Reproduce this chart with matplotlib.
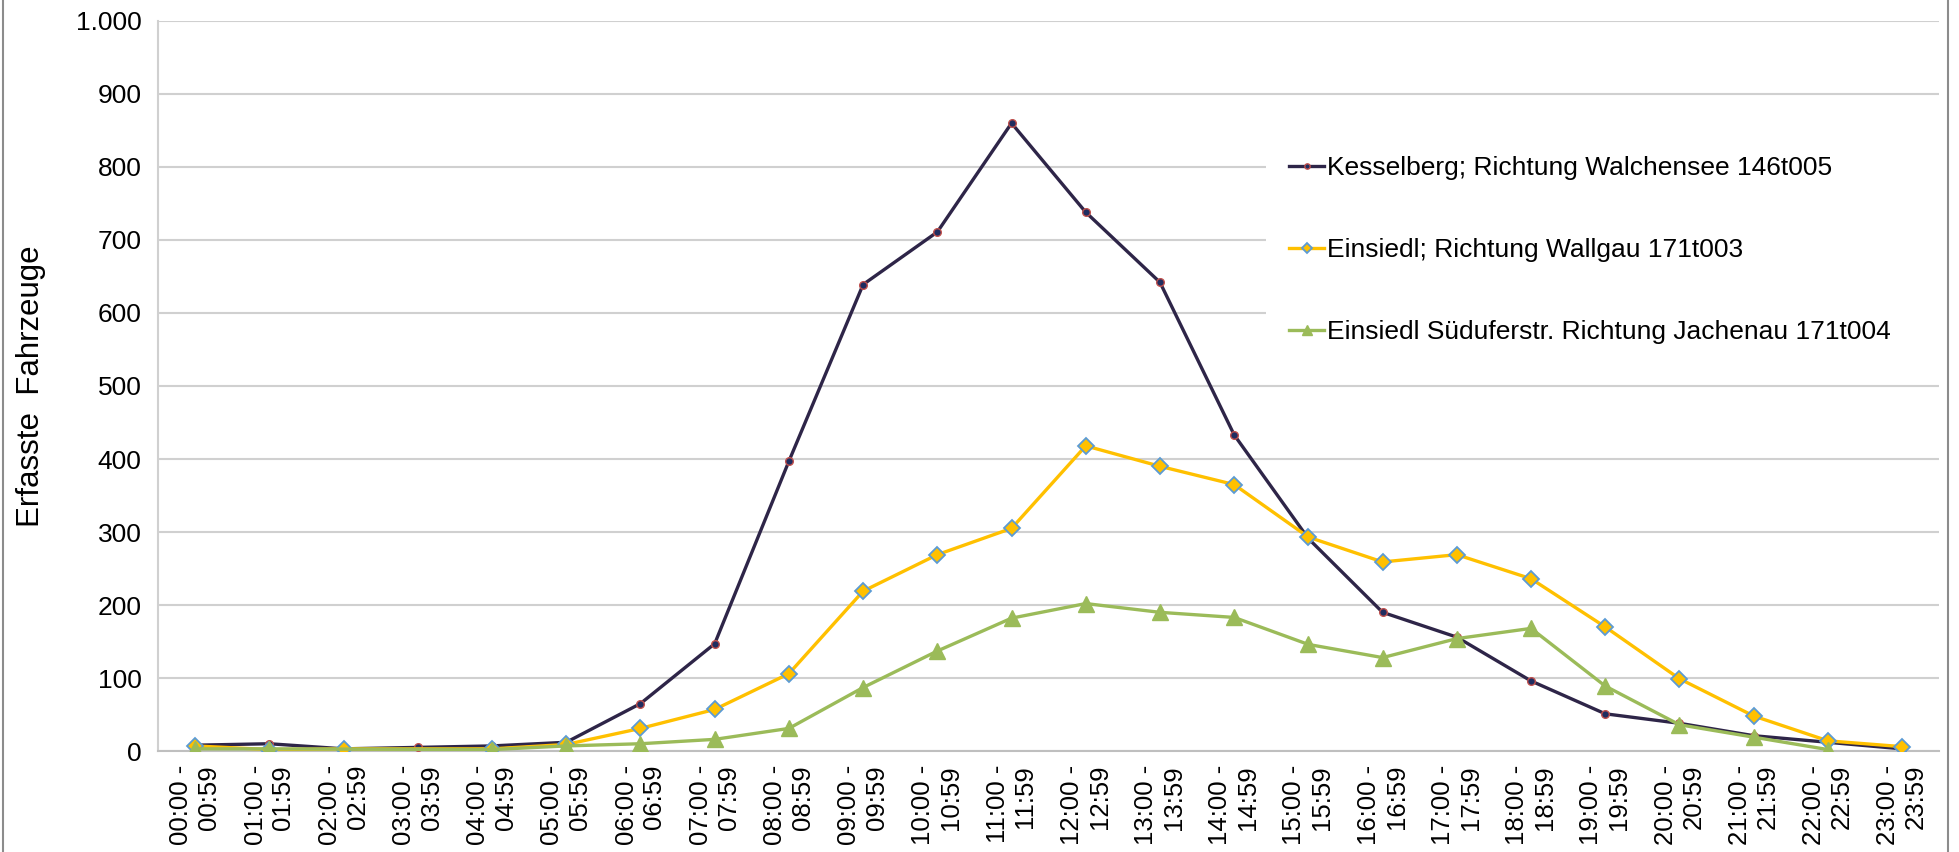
import matplotlib
matplotlib.use('Agg')
import matplotlib.pyplot as plt
import numpy as np
from matplotlib.ticker import FuncFormatter
from matplotlib.patches import Rectangle

plt.rcParams['font.family'] = ['Liberation Sans', 'DejaVu Sans']

hours = [f'{h:02}:00 -\n{h:02}:59' for h in range(24)]

kesselberg = [8, 10, 3, 5, 7, 12, 65, 147, 397, 639, 711, 860, 738, 642,
              433, 291, 190, 156, 96, 51, 38, 21, 12, 3]
wallgau = [7, 2, 3, np.nan, 3, 9, 31, 57, 106, 219, 269, 305, 418, 390,
           365, 293, 259, 269, 236, 170, 99, 48, 14, 6]
jachenau = [3, 3, np.nan, np.nan, 2, 7, 10, 16, 31, 87, 137, 182, 202, 190,
            183, 146, 128, 154, 168, 89, 36, 19, 2, np.nan]

labels = ['Kesselberg; Richtung Walchensee 146t005',
          'Einsiedl; Richtung Wallgau 171t003',
          'Einsiedl Süduferstr. Richtung Jachenau 171t004']

fig = plt.figure(figsize=(19.59, 8.52), dpi=100)
ax = fig.add_axes([0.0807, 0.1185, 0.9092, 0.8569])

x = np.arange(24)


def draw(values, **kw):
    v = np.array(values, dtype=float)
    ok = ~np.isnan(v)
    return ax.plot(x[ok], v[ok], **kw)[0]


l1 = draw(kesselberg, color='#2E2548', lw=2.4, marker='o', ms=5.5,
          mfc='#1F2D60', mec='#C0504D', mew=1.0, zorder=3)
l2 = draw(wallgau, color='#FFC000', lw=2.4, marker='D', ms=8,
          mfc='#FFC000', mec='#5B9BD5', mew=1.3, zorder=4)
l3 = draw(jachenau, color='#9BBB59', lw=2.4, marker='^', ms=11,
          mfc='#9BBB59', mec='#9BBB59', zorder=5)

ax.set_xlim(-0.5, 23.5)
ax.set_ylim(0, 1000)
ax.set_yticks(range(0, 1001, 100))
ax.yaxis.set_major_formatter(FuncFormatter(lambda v, p: f'{int(v):,}'.replace(',', '.')))
ax.set_xticks(x)
ax.set_xticklabels(hours, rotation=90, multialignment='right', fontsize=18.5)
ax.tick_params(axis='y', labelsize=19, length=0, pad=12)
ax.tick_params(axis='x', length=0, pad=10)

ax.grid(axis='y', color='#D0D0D0', lw=1.5)
ax.set_axisbelow(True)
for s in ['top', 'right']:
    ax.spines[s].set_visible(False)
ax.spines['left'].set_color('#D0D0D0')
ax.spines['left'].set_linewidth(1.5)
ax.spines['bottom'].set_color('#BFBFBF')
ax.spines['bottom'].set_linewidth(1.5)

ax.set_ylabel('Erfasste  Fahrzeuge', fontsize=22.5)
ax.yaxis.set_label_coords(-0.063, 0.5)

# white area behind the legend, hiding the gridlines there
ax.add_patch(Rectangle((0.622, 0.53), 0.378, 0.34, transform=ax.transAxes,
                       facecolor='white', edgecolor='none', zorder=2))

leg = ax.legend([l1, l2, l3], labels, loc='upper left', bbox_to_anchor=(0.635, 0.815),
                fontsize=19, frameon=False, handlelength=1.33, handletextpad=0.1,
                labelspacing=2.2, borderpad=0, borderaxespad=0, markerscale=0.7)
leg.set_zorder(10)

fig.patches.append(Rectangle((0.0015, -0.01), 0.993, 1.05, transform=fig.transFigure,
                             fill=False, edgecolor='#8C8C8C', lw=1.5))

fig.savefig('out.png', dpi=100)
